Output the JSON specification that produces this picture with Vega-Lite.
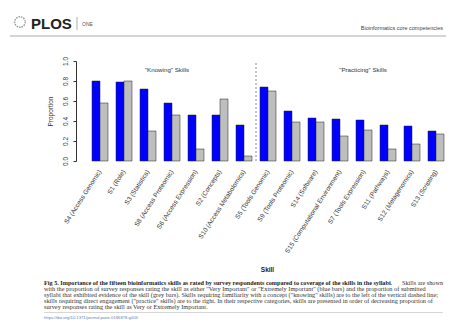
{
  "$schema": "https://vega.github.io/schema/vega-lite/v6.json",
  "width": 376,
  "height": 100,
  "autosize": {"type": "none"},
  "padding": {"left": 80, "top": 61, "right": 5, "bottom": 163},
  "background": "white",
  "config": {"font": "Liberation Sans", "view": {"stroke": null}, "axisY": {"labelOverlap": false, "labelSeparation": 0}},
  "datasets": {
    "skills": [
      {"skill": "S4 (Access Genomic)", "measure": "Survey", "value": 0.80},
      {"skill": "S4 (Access Genomic)", "measure": "Syllabi", "value": 0.58},
      {"skill": "S1 (Role)", "measure": "Survey", "value": 0.79},
      {"skill": "S1 (Role)", "measure": "Syllabi", "value": 0.80},
      {"skill": "S3 (Statistics)", "measure": "Survey", "value": 0.72},
      {"skill": "S3 (Statistics)", "measure": "Syllabi", "value": 0.30},
      {"skill": "S8 (Access Proteomic)", "measure": "Survey", "value": 0.58},
      {"skill": "S8 (Access Proteomic)", "measure": "Syllabi", "value": 0.46},
      {"skill": "S6 (Access Expression)", "measure": "Survey", "value": 0.46},
      {"skill": "S6 (Access Expression)", "measure": "Syllabi", "value": 0.12},
      {"skill": "S2 (Concepts)", "measure": "Survey", "value": 0.46},
      {"skill": "S2 (Concepts)", "measure": "Syllabi", "value": 0.62},
      {"skill": "S10 (Access Metabolomics)", "measure": "Survey", "value": 0.36},
      {"skill": "S10 (Access Metabolomics)", "measure": "Syllabi", "value": 0.05},
      {"skill": "S5 (Tools Genomic)", "measure": "Survey", "value": 0.74},
      {"skill": "S5 (Tools Genomic)", "measure": "Syllabi", "value": 0.70},
      {"skill": "S9 (Tools Proteomic)", "measure": "Survey", "value": 0.50},
      {"skill": "S9 (Tools Proteomic)", "measure": "Syllabi", "value": 0.39},
      {"skill": "S14 (Software)", "measure": "Survey", "value": 0.43},
      {"skill": "S14 (Software)", "measure": "Syllabi", "value": 0.39},
      {"skill": "S15 (Computational Environment)", "measure": "Survey", "value": 0.42},
      {"skill": "S15 (Computational Environment)", "measure": "Syllabi", "value": 0.25},
      {"skill": "S7 (Tools Expression)", "measure": "Survey", "value": 0.41},
      {"skill": "S7 (Tools Expression)", "measure": "Syllabi", "value": 0.31},
      {"skill": "S11 (Pathways)", "measure": "Survey", "value": 0.36},
      {"skill": "S11 (Pathways)", "measure": "Syllabi", "value": 0.12},
      {"skill": "S12 (Metagenomics)", "measure": "Survey", "value": 0.35},
      {"skill": "S12 (Metagenomics)", "measure": "Syllabi", "value": 0.17},
      {"skill": "S13 (Scripting)", "measure": "Survey", "value": 0.30},
      {"skill": "S13 (Scripting)", "measure": "Syllabi", "value": 0.27}
    ]
  },
  "resolve": {"scale": {"x": "independent", "y": "independent"}},
  "layer": [
    {
      "layer": [
        {
          "data": {"name": "skills"},
          "mark": {"type": "bar", "stroke": "#222", "strokeWidth": 0.5},
          "encoding": {
            "x": {
              "field": "skill", "type": "nominal", "sort": null, "title": "Skill",
              "scale": {"paddingInner": 0.3333, "paddingOuter": 0.5},
              "axis": {"labelAngle": -57, "labelFontSize": 6.5, "labelColor": "#333", "domain": false, "ticks": false, "labelPadding": 9, "labelLimit": 300, "labelOverlap": false,
                       "titleFontSize": 6.5, "titleFontWeight": "bold", "titleColor": "#222", "titleX": 187, "titleY": 108, "titleBaseline": "middle"}
            },
            "xOffset": {"field": "measure", "type": "nominal", "scale": {"domain": ["Survey", "Syllabi"], "paddingInner": 0, "paddingOuter": 0}},
            "y": {
              "field": "value", "type": "quantitative", "title": "Proportion",
              "scale": {"domain": [0, 1], "nice": false},
              "axis": {"values": [0, 0.2, 0.4, 0.6, 0.8, 1.0], "format": ".1f", "labelAngle": 270, "labelAlign": "center", "labelBaseline": "bottom", "labelOverlap": false, "labelFlush": false, "labelBound": false,
                       "labelFontSize": 6.5, "labelColor": "#333", "labelPadding": 5, "tickSize": 3, "tickColor": "#333", "domainColor": "#333",
                       "offset": 4, "grid": false, "titleFontSize": 6.5, "titleFontWeight": "normal", "titleColor": "#333", "titlePadding": 9}
            },
            "color": {"field": "measure", "type": "nominal", "scale": {"domain": ["Survey", "Syllabi"], "range": ["#0000ff", "#bebebe"]}, "legend": null}
          }
        },
        {
          "data": {"values": [{"k": 1}]},
          "mark": {"type": "rule", "strokeDash": [2, 2], "color": "#888", "strokeWidth": 1},
          "encoding": {
            "x": {"datum": "S10 (Access Metabolomics)", "type": "nominal", "bandPosition": 1.25, "title": "Skill",
              "axis": {"labelAngle": -57, "labelFontSize": 6.5, "labelColor": "#333", "domain": false, "ticks": false, "labelPadding": 9, "labelLimit": 300, "labelOverlap": false,
                       "titleFontSize": 6.5, "titleFontWeight": "bold", "titleColor": "#222", "titleX": 187, "titleY": 108, "titleBaseline": "middle"}},
            "y": {"datum": 0, "type": "quantitative", "title": "Proportion",
              "axis": {"values": [0, 0.2, 0.4, 0.6, 0.8, 1.0], "format": ".1f", "labelAngle": 270, "labelAlign": "center", "labelBaseline": "bottom", "labelOverlap": false, "labelFlush": false, "labelBound": false,
                       "labelFontSize": 6.5, "labelColor": "#333", "labelPadding": 5, "tickSize": 3, "tickColor": "#333", "domainColor": "#333",
                       "offset": 4, "grid": false, "titleFontSize": 6.5, "titleFontWeight": "normal", "titleColor": "#333", "titlePadding": 9}},
            "y2": {"datum": 1}
          }
        },
        {
          "data": {"values": [{"label": "\"Knowing\" Skills"}, {"label": "\"Practicing\" Skills"}]},
          "transform": [{"filter": "datum.label == '\"Knowing\" Skills'"}],
          "mark": {"type": "text", "fontSize": 6.2, "color": "#333", "baseline": "middle"},
          "encoding": {
            "x": {"datum": "S8 (Access Proteomic)", "type": "nominal", "bandPosition": 0.19, "title": "Skill",
              "axis": {"labelAngle": -57, "labelFontSize": 6.5, "labelColor": "#333", "domain": false, "ticks": false, "labelPadding": 9, "labelLimit": 300, "labelOverlap": false,
                       "titleFontSize": 6.5, "titleFontWeight": "bold", "titleColor": "#222", "titleX": 187, "titleY": 108, "titleBaseline": "middle"}},
            "y": {"datum": 0.91, "type": "quantitative", "title": "Proportion",
              "axis": {"values": [0, 0.2, 0.4, 0.6, 0.8, 1.0], "format": ".1f", "labelAngle": 270, "labelAlign": "center", "labelBaseline": "bottom", "labelOverlap": false, "labelFlush": false, "labelBound": false,
                       "labelFontSize": 6.5, "labelColor": "#333", "labelPadding": 5, "tickSize": 3, "tickColor": "#333", "domainColor": "#333",
                       "offset": 4, "grid": false, "titleFontSize": 6.5, "titleFontWeight": "normal", "titleColor": "#333", "titlePadding": 9}},
            "text": {"field": "label"}
          }
        },
        {
          "data": {"values": [{"label": "\"Practicing\" Skills"}]},
          "mark": {"type": "text", "fontSize": 6.2, "color": "#333", "baseline": "middle"},
          "encoding": {
            "x": {"datum": "S7 (Tools Expression)", "type": "nominal", "bandPosition": 0.44, "title": "Skill",
              "axis": {"labelAngle": -57, "labelFontSize": 6.5, "labelColor": "#333", "domain": false, "ticks": false, "labelPadding": 9, "labelLimit": 300, "labelOverlap": false,
                       "titleFontSize": 6.5, "titleFontWeight": "bold", "titleColor": "#222", "titleX": 187, "titleY": 108, "titleBaseline": "middle"}},
            "y": {"datum": 0.91, "type": "quantitative", "title": "Proportion",
              "axis": {"values": [0, 0.2, 0.4, 0.6, 0.8, 1.0], "format": ".1f", "labelAngle": 270, "labelAlign": "center", "labelBaseline": "bottom", "labelOverlap": false, "labelFlush": false, "labelBound": false,
                       "labelFontSize": 6.5, "labelColor": "#333", "labelPadding": 5, "tickSize": 3, "tickColor": "#333", "domainColor": "#333",
                       "offset": 4, "grid": false, "titleFontSize": 6.5, "titleFontWeight": "normal", "titleColor": "#333", "titlePadding": 9}},
            "text": {"field": "label"}
          }
        }
      ]
    },
    {
      "layer": [
        {
          "data": {"values": [{"k": 1}]},
          "mark": {"type": "rule", "color": "#aaa", "strokeWidth": 1},
          "encoding": {
            "x": {"datum": -0.1862, "type": "quantitative", "scale": {"domain": [0, 1]}, "axis": null},
            "x2": {"datum": 0.9734},
            "y": {"datum": 1.25, "type": "quantitative", "scale": {"domain": [0, 1]}, "axis": null}
          }
        },
        {
          "data": {"values": [{"k": 1}]},
          "mark": {"type": "point", "shape": "circle", "size": 110, "filled": false, "stroke": "#666", "strokeWidth": 1.3, "strokeDash": [1.5, 1]},
          "encoding": {
            "x": {"datum": -0.1596, "type": "quantitative", "scale": {"domain": [0, 1]}, "axis": null},
            "y": {"datum": 1.39, "type": "quantitative", "scale": {"domain": [0, 1]}, "axis": null}
          }
        },
        {
          "data": {"values": [{"t": "PLOS"}]},
          "mark": {"type": "text", "fontSize": 15, "fontWeight": "bold", "color": "#222", "align": "left", "baseline": "alphabetic"},
          "encoding": {
            "x": {"datum": -0.1303, "type": "quantitative", "scale": {"domain": [0, 1]}, "axis": null},
            "y": {"datum": 1.325, "type": "quantitative", "scale": {"domain": [0, 1]}, "axis": null},
            "text": {"field": "t"}
          }
        },
        {
          "data": {"values": [{"k": 1}]},
          "mark": {"type": "rule", "color": "#999", "strokeWidth": 0.8},
          "encoding": {
            "x": {"datum": -0.008, "type": "quantitative", "scale": {"domain": [0, 1]}, "axis": null},
            "y": {"datum": 1.31, "type": "quantitative", "scale": {"domain": [0, 1]}, "axis": null},
            "y2": {"datum": 1.44}
          }
        },
        {
          "data": {"values": [{"t": "ONE"}]},
          "mark": {"type": "text", "fontSize": 5, "color": "#555", "align": "left", "baseline": "alphabetic", "letterSpacing": 0.6},
          "encoding": {
            "x": {"datum": 0.0053, "type": "quantitative", "scale": {"domain": [0, 1]}, "axis": null},
            "y": {"datum": 1.355, "type": "quantitative", "scale": {"domain": [0, 1]}, "axis": null},
            "text": {"field": "t"}
          }
        },
        {
          "data": {"values": [{"t": "Bioinformatics core competencies"}]},
          "mark": {"type": "text", "fontSize": 5.5, "color": "#444", "align": "right", "baseline": "alphabetic"},
          "encoding": {
            "x": {"datum": 0.9654, "type": "quantitative", "scale": {"domain": [0, 1]}, "axis": null},
            "y": {"datum": 1.31, "type": "quantitative", "scale": {"domain": [0, 1]}, "axis": null},
            "text": {"field": "t"}
          }
        },
        {
          "data": {"values": [{"t": "Fig 5. Importance of the fifteen bioinformatics skills as rated by survey respondents compared to coverage of the skills in the syllabi."}]},
          "mark": {"type": "text", "font": "Liberation Serif", "fontSize": 6.2, "fontWeight": "bold", "color": "#222", "align": "left", "baseline": "top"},
          "encoding": {
            "x": {"datum": -0.0957, "type": "quantitative", "scale": {"domain": [0, 1]}, "axis": null},
            "y": {"datum": -1.19, "type": "quantitative", "scale": {"domain": [0, 1]}, "axis": null},
            "text": {"field": "t"}
          }
        },
        {
          "data": {"values": [{"t": "Skills are shown"}]},
          "mark": {"type": "text", "font": "Liberation Serif", "fontSize": 6.2, "color": "#333", "align": "right", "baseline": "top"},
          "encoding": {
            "x": {"datum": 0.9654, "type": "quantitative", "scale": {"domain": [0, 1]}, "axis": null},
            "y": {"datum": -1.19, "type": "quantitative", "scale": {"domain": [0, 1]}, "axis": null},
            "text": {"field": "t"}
          }
        },
        {
          "data": {"values": [{"t": "with the proportion of survey responses rating the skill as either \"Very Important\" or \"Extremely Important\" (blue bars) and the proportion of submitted|syllabi that exhibited evidence of the skill (grey bars). Skills requiring familiarity with a concept (\"knowing\" skills) are to the left of the vertical dashed line;|skills requiring direct engagement (\"practice\" skills) are to the right. In their respective categories, skills are presented in order of decreasing proportion of|survey responses rating the skill as Very or Extremely Important."}]},
          "mark": {"type": "text", "font": "Liberation Serif", "fontSize": 6.3, "color": "#333", "align": "left", "baseline": "top", "lineBreak": "|", "lineHeight": 6},
          "encoding": {
            "x": {"datum": -0.0957, "type": "quantitative", "scale": {"domain": [0, 1]}, "axis": null},
            "y": {"datum": -1.25, "type": "quantitative", "scale": {"domain": [0, 1]}, "axis": null},
            "text": {"field": "t"}
          }
        },
        {
          "data": {"values": [{"k": 1}]},
          "mark": {"type": "rule", "color": "#ccc", "strokeWidth": 0.8},
          "encoding": {
            "x": {"datum": -0.0957, "type": "quantitative", "scale": {"domain": [0, 1]}, "axis": null},
            "x2": {"datum": 0.9654},
            "y": {"datum": -1.515, "type": "quantitative", "scale": {"domain": [0, 1]}, "axis": null}
          }
        },
        {
          "data": {"values": [{"t": "https://doi.org/10.1371/journal.pone.0196878.g005"}]},
          "mark": {"type": "text", "fontSize": 4.2, "color": "#5b7fb5", "align": "left", "baseline": "middle"},
          "encoding": {
            "x": {"datum": -0.0957, "type": "quantitative", "scale": {"domain": [0, 1]}, "axis": null},
            "y": {"datum": -1.57, "type": "quantitative", "scale": {"domain": [0, 1]}, "axis": null},
            "text": {"field": "t"}
          }
        }
      ]
    }
  ]
}
